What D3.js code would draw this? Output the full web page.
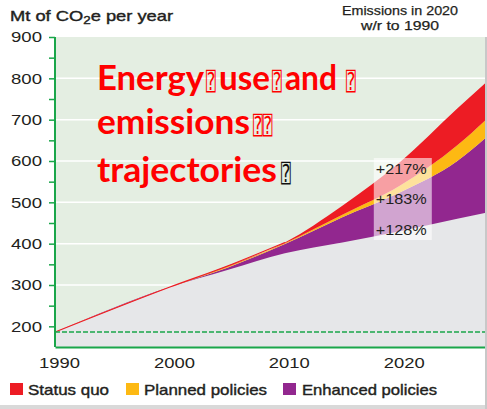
<!DOCTYPE html>
<html>
<head>
<meta charset="utf-8">
<script src="https://cdn.jsdelivr.net/npm/d3@7"></script>
<style>
  body { margin: 0; background: #fff; }
  svg { display: block; }
</style>
</head>
<body>
<div id="chart"></div>
<script>
// values (Mt CO2e per year)
const years = [1990, 2000, 2005, 2010, 2015, 2020, 2025, 2027.5];
const baseline = [186, 295, 336, 377, 403, 430, 460, 475];
const enhanced = [186, 295, 342, 399, 464, 524, 600, 657];
const planned = [186, 295, 344, 401, 470, 540, 638, 700];
const statusQuo = [186, 295, 346, 403, 492, 597, 727, 790];
const level1990 = 186;

const yTicks = d3.range(200, 901, 50);
const xTicks = [1990, 2000, 2010, 2020];
const pctLabels = ['+217%', '+183%', '+128%'];
const legendNames = ['Status quo', 'Planned policies', 'Enhanced policies'];

const colors = {
    bg: '#e4eee2', grey: '#e6e7e9', purple: '#92278f',
    orange: '#fdb913', red: '#ed1c24', axis: '#1aa64a', text: '#231f20'
};
const legendColors = [colors.red, colors.orange, colors.purple];

const W = 487, H = 409;
const margin = {top: 37, left: 55, bottom: 62, right: 1};

const svg = d3.select('#chart')
              .append('svg')
              .attr('width', W)
              .attr('height', H);

const x = d3.scaleLinear()
            .domain([1990, 2027.5])
            .range([margin.left, W - margin.right]);

const y = d3.scaleLinear()
            .domain([150, 900])
            .range([H - margin.bottom, margin.top]);

const rows = years.map((yr, i) => ({
    year: yr, base: baseline[i], enh: enhanced[i], plan: planned[i], sq: statusQuo[i]
}));

// plot background + white grid
svg.append('rect')
   .attr('x', x(1990)).attr('y', y(900))
   .attr('width', x(2027.5) - x(1990)).attr('height', y(150) - y(900))
   .attr('fill', colors.bg);

svg.append('g').selectAll('line')
   .data([300, 400, 500, 600, 700, 800])
   .join('line')
   .attr('x1', x(1990)).attr('x2', x(2027.5))
   .attr('y1', d => y(d)).attr('y2', d => y(d))
   .attr('stroke', '#fff').attr('stroke-width', 1.5);

// stacked trajectories
const layers = [
    {lo: () => 150, hi: d => d.base, fill: colors.grey},
    {lo: d => d.base, hi: d => d.enh, fill: colors.purple},
    {lo: d => d.enh, hi: d => d.plan, fill: colors.orange},
    {lo: d => d.plan, hi: d => d.sq, fill: colors.red}
];

layers.forEach(l => {
    const area = d3.area()
                   .curve(d3.curveMonotoneX)
                   .x(d => x(d.year))
                   .y0(d => y(l.lo(d)))
                   .y1(d => y(l.hi(d)));
    svg.append('path')
       .datum(rows)
       .attr('d', area)
       .attr('fill', l.fill);
});

svg.append('path')
   .datum(rows.filter(d => d.year <= 2010))
   .attr('d', d3.line().curve(d3.curveMonotoneX).x(d => x(d.year)).y(d => y(d.sq)))
   .attr('fill', 'none')
   .attr('stroke', colors.red)
   .attr('stroke-width', 1.1);

// 1990 level
svg.append('line')
   .attr('x1', x(1990)).attr('x2', x(2027.5))
   .attr('y1', y(level1990)).attr('y2', y(level1990))
   .attr('stroke', colors.axis).attr('stroke-width', 1.5)
   .attr('stroke-dasharray', '5,2');

// percentage box at 2020
svg.append('rect')
   .attr('x', x(2020) - 26).attr('y', 158)
   .attr('width', 58).attr('height', 82)
   .attr('fill', '#fff').attr('opacity', 0.58);

svg.append('g').selectAll('text')
   .data(pctLabels)
   .join('text')
   .attr('x', x(2020) - 24)
   .attr('y', (d, i) => [174, 204, 235][i])
   .attr('textLength', 51)
   .attr('lengthAdjust', 'spacingAndGlyphs')
   .style('font', '15px "Liberation Sans", Arial, sans-serif')
   .attr('fill', colors.text)
   .text(d => d);

// axes
const yAxis = svg.append('g')
                 .attr('transform', `translate(${x(1990)},0)`)
                 .call(d3.axisLeft(y)
                         .tickValues(yTicks)
                         .tickSize(6)
                         .tickFormat(d => d % 100 === 0 ? d : ''));
yAxis.select('.domain').attr('stroke', colors.axis).attr('stroke-width', 2)
     .attr('d', `M0,${y(150)}V${y(900)}`);
yAxis.selectAll('.tick line').attr('stroke', colors.axis).attr('stroke-width', 1.5);
yAxis.selectAll('.tick text')
     .attr('x', -13)
     .attr('textLength', 31)
     .attr('lengthAdjust', 'spacingAndGlyphs')
     .style('font', '15px "Liberation Sans", Arial, sans-serif')
     .attr('fill', colors.text);

const xAxis = svg.append('g')
                 .attr('transform', `translate(0,${y(150)})`)
                 .call(d3.axisBottom(x).tickValues(xTicks).tickSize(0).tickFormat(d3.format('d')));
xAxis.select('.domain').attr('stroke', colors.axis).attr('stroke-width', 2);
xAxis.selectAll('.tick text')
     .attr('x', 4)
     .attr('y', 10)
     .attr('dy', '0.71em')
     .attr('textLength', 41)
     .attr('lengthAdjust', 'spacingAndGlyphs')
     .style('font', '15px "Liberation Sans", Arial, sans-serif')
     .attr('fill', colors.text);

// titles
const title = svg.append('text')
                 .attr('x', 10).attr('y', 21)
                 .attr('textLength', 163)
                 .attr('lengthAdjust', 'spacingAndGlyphs')
                 .style('font', '15px "Liberation Sans", Arial, sans-serif')
                 .attr('fill', colors.text)
                 .attr('stroke', colors.text).attr('stroke-width', 0.4);
title.append('tspan').text('Mt of CO');
title.append('tspan').attr('dy', 3).style('font-size', '11px').text('2');
title.append('tspan').attr('dy', -3).text('e per year');

svg.append('text')
   .attr('text-anchor', 'middle')
   .style('font', '13px "Liberation Sans", Arial, sans-serif')
   .attr('fill', colors.text)
   .attr('stroke', colors.text).attr('stroke-width', 0.25)
   .selectAll('tspan')
   .data(['Emissions in 2020', 'w/r to 1990'])
   .join('tspan')
   .attr('x', 400)
   .attr('y', (d, i) => [15, 29.5][i])
   .attr('textLength', (d, i) => [116, 78][i])
   .attr('lengthAdjust', 'spacingAndGlyphs')
   .text(d => d);

// overlay heading (with the missing-glyph boxes of the original)
const words = [
    {t: 'Energy', x: 97, y: 90, w: 107}, {t: 'use', x: 219, y: 90, w: 51},
    {t: 'and', x: 285, y: 90, w: 52}, {t: 'emissions', x: 97, y: 134, w: 153},
    {t: 'trajectories', x: 97, y: 182, w: 180}
];
const boxes = [
    {t: '\u2370', x: 206, y: 90}, {t: '\u2370', x: 272, y: 90}, {t: '\u2370', x: 346, y: 90},
    {t: '\u2370\u2370', x: 253, y: 134}, {t: '\u2370', x: 281, y: 182, dark: true}
];
svg.append('g').selectAll('text')
   .data(words)
   .join('text')
   .attr('x', d => d.x).attr('y', d => d.y)
   .attr('textLength', d => d.w)
   .attr('lengthAdjust', 'spacingAndGlyphs')
   .style('font', '700 35px Lato, "Open Sans", sans-serif')
   .attr('fill', '#ff0000')
   .text(d => d.t);

svg.append('g').selectAll('text')
   .data(boxes)
   .join('text')
   .attr('transform', d => `translate(${d.x},${d.y}) scale(0.95,1.45)`)
   .style('font', '17px "DejaVu Sans Mono", "DejaVu Sans", monospace')
   .attr('fill', d => d.dark ? '#111' : '#ff0000')
   .text(d => d.t);

// legend
const legend = svg.append('g').selectAll('g')
                  .data(legendNames)
                  .join('g')
                  .attr('transform', (d, i) => `translate(${[10, 126, 283][i]},383)`);
legend.append('rect')
      .attr('width', 13).attr('height', 12)
      .attr('fill', (d, i) => legendColors[i]);
legend.append('text')
      .attr('x', (d, i) => [18, 18, 19][i]).attr('y', 12)
      .attr('textLength', (d, i) => [81, 123, 135][i])
      .attr('lengthAdjust', 'spacingAndGlyphs')
      .style('font', '15px "Liberation Sans", Arial, sans-serif')
      .attr('fill', colors.text)
      .attr('stroke', colors.text).attr('stroke-width', 0.4)
      .text(d => d);

// slide shadow edges
svg.append('rect').attr('x', 0).attr('y', 405).attr('width', W).attr('height', 4).attr('fill', '#d9d9d9');
svg.append('rect').attr('x', 485).attr('y', 37).attr('width', 2).attr('height', 372).attr('fill', '#c8c8c8');
</script>
</body>
</html>
